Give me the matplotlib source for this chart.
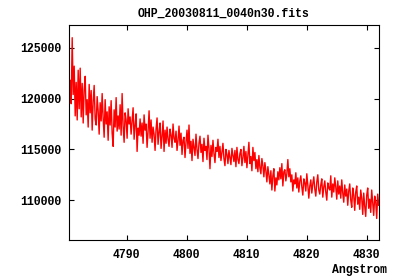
import numpy as np
import matplotlib
matplotlib.use("Agg")
import matplotlib.pyplot as plt

title = "OHP_20030811_0040n30.fits"
x_label = "Angstrom"
x_ticks = [4790, 4800, 4810, 4820, 4830]
y_ticks = [110000, 115000, 120000, 125000]

# flux in units of 1000 (about one value per pixel column)
flux_k = [
    121.8, 119.5, 126.0, 120.4, 123.2, 118.3, 121.6, 117.9, 122.8, 119.0,
    123.0, 118.2, 121.5, 117.6, 120.9, 122.2, 118.4, 119.9, 117.2, 121.4,
    118.6, 120.8, 116.9, 119.7, 121.3, 118.0, 117.4, 120.2, 118.8, 116.5,
    119.6, 117.8, 120.5, 118.1, 116.2, 119.9, 117.5, 118.7, 115.9, 119.2,
    117.4, 119.8, 116.6, 115.3, 118.9, 117.2, 120.1, 116.8, 118.3, 117.0,
    119.4, 116.4, 120.5, 117.3, 115.7, 118.6, 117.9, 116.1, 119.0, 117.5,
    118.2, 116.5, 117.8, 119.1, 116.0, 117.4, 118.5, 114.8, 117.1, 116.4,
    118.0, 116.3, 117.6, 115.6, 118.4, 116.9, 117.5, 115.2, 116.8, 118.8,
    116.1, 117.9, 115.7, 117.2, 116.5, 114.9, 117.0, 118.1, 115.5, 116.7,
    117.6, 115.1, 116.3, 117.8, 114.8, 116.9, 115.6, 117.2, 116.0, 115.3,
    117.0, 116.4, 115.2, 117.5, 116.1, 115.7, 116.8, 114.9, 115.9, 117.3,
    115.4, 116.6, 114.5, 115.9, 116.2, 114.2, 115.7, 116.9, 115.1, 117.4,
    114.6, 115.8, 113.9, 116.0, 115.2, 114.4, 116.5, 115.0, 114.1, 115.6,
    116.3, 114.7, 115.5, 113.8, 116.1, 114.9, 115.3, 114.0, 116.4, 115.1,
    113.1, 115.4, 114.3, 115.9, 114.6, 113.7, 115.2, 114.8, 116.0, 114.2,
    115.3, 113.9, 114.7, 115.6, 114.1, 113.4, 115.0, 114.5, 113.6, 114.9,
    114.2, 113.5, 115.1, 114.4, 113.8, 114.9, 113.3, 115.2, 114.0, 113.6,
    114.6, 115.0, 113.4, 114.2, 115.3, 113.7, 114.8, 113.2, 114.5, 115.7,
    113.6, 114.3, 112.9, 115.2, 113.9, 114.7, 113.1, 114.0, 112.8, 114.4,
    113.2, 112.6, 114.1, 113.4, 112.3, 113.7, 112.9, 111.8, 113.3, 112.5,
    111.6, 112.9, 111.0, 112.4, 113.1, 110.9, 112.2, 111.5, 112.8, 112.0,
    113.2, 112.1, 113.6, 111.4, 112.8, 113.0, 111.9, 112.6, 114.0, 112.3,
    113.1, 111.8, 112.5, 110.9, 112.0, 111.6, 112.7, 111.2, 112.2, 110.8,
    111.9, 112.4, 111.3, 110.5, 112.1, 111.7, 110.9, 112.6, 111.5, 110.2,
    111.4, 112.0, 110.7, 111.6, 112.3, 111.1, 110.4, 111.8, 112.5, 111.0,
    110.6, 111.5, 112.1, 110.3, 111.3, 111.9, 110.8, 110.0, 111.7, 111.2,
    111.0, 112.4, 110.3, 111.6, 110.8, 112.2, 111.3, 110.1, 111.9, 110.6,
    111.4, 110.2, 112.0, 110.7, 109.8, 111.5, 110.4, 111.1, 109.5, 110.9,
    111.6, 110.0, 109.3, 111.2, 110.5, 109.0, 110.8, 111.4, 109.6, 110.3,
    109.1, 111.0, 110.2, 108.6, 110.7, 109.4, 108.4, 110.5, 111.2, 109.2,
    110.1, 108.8, 111.0, 109.7, 108.5, 110.4, 109.9, 108.2, 110.6, 109.5,
]
wave_start = 4780.6
wave_end = 4832.0

flux = np.array(flux_k) * 1000
wave = np.linspace(wave_start, wave_end, len(flux))

font = dict(family="Liberation Mono", weight="bold", size=8.3)

fig = plt.figure(figsize=(4, 2.8), dpi=100)
ax = fig.add_axes([69.3 / 400, 1 - 240.3 / 280, 310 / 400, 215.3 / 280])
ax.plot(wave, flux, color="#ff0000", lw=1.0)

ax.set_xlim(4780.45, 4832.1)
ax.set_ylim(106050, 127250)
ax.set_xticks(x_ticks)
ax.set_yticks(y_ticks)
ax.set_xticklabels([str(t) for t in x_ticks], **font)
ax.set_yticklabels([str(t) for t in y_ticks], **font)
ax.tick_params(direction="in", length=3.5, width=0.8, top=True, right=True, pad=6)
for s in ax.spines.values():
    s.set_linewidth(0.8)

fig.text(224 / 400, 1 - 14 / 280, title, ha="center", va="center", **font)
fig.text(387 / 400, 1 - 270 / 280, x_label, ha="right", va="center", **font)

fig.savefig("out.png", dpi=100)
